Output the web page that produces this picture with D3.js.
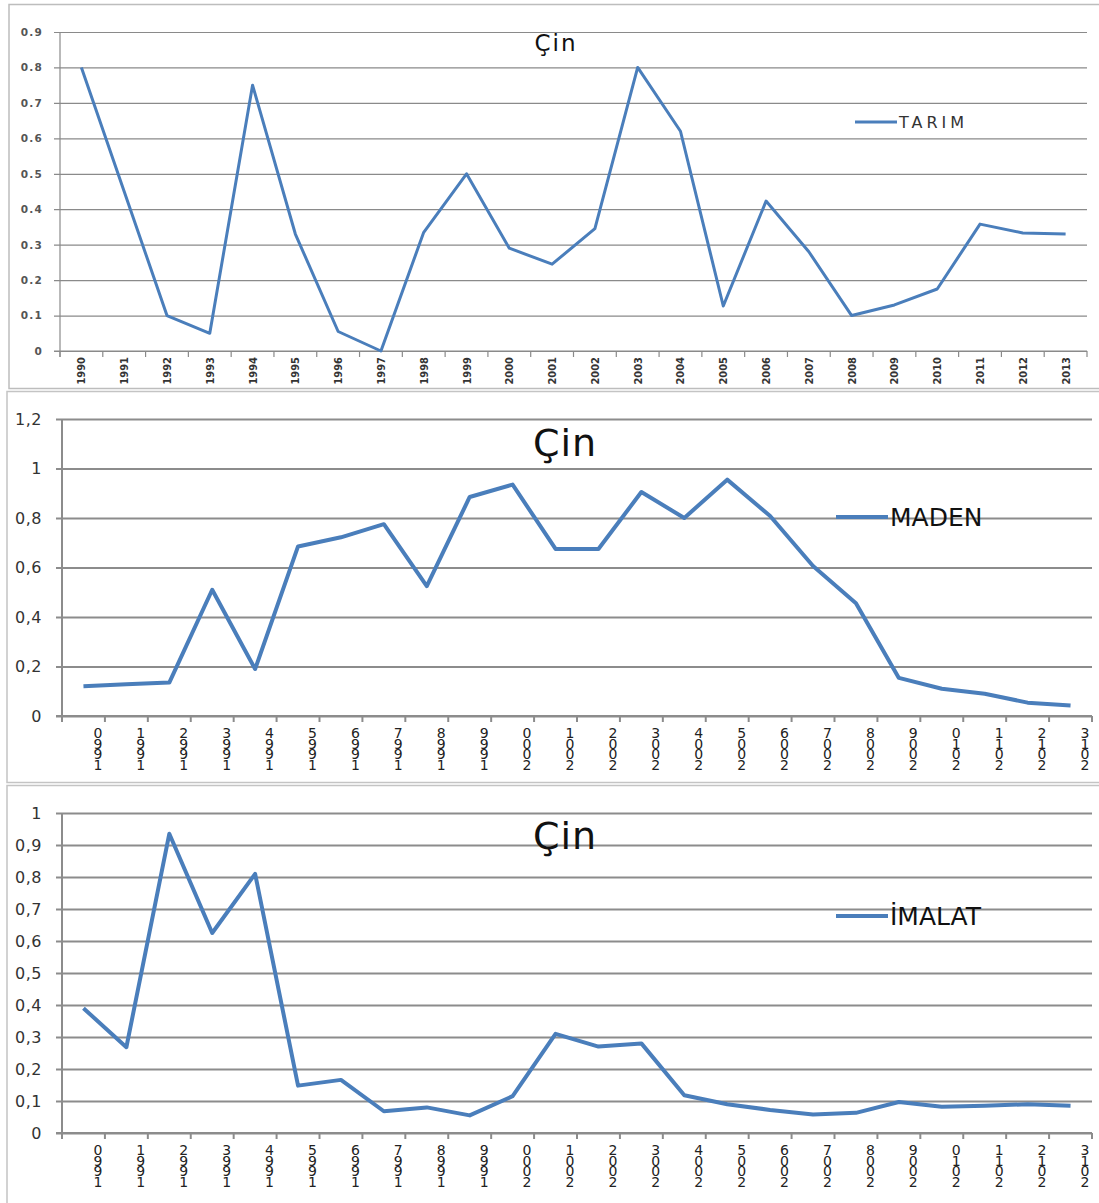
<!DOCTYPE html>
<html>
<head>
<meta charset="utf-8">
<script src="https://cdn.jsdelivr.net/npm/d3@7"></script>
<style>
  body { margin: 0; background: #fff; }
  svg { display: block; }
</style>
</head>
<body>
<div id="chart"></div>
<script>
const years = ['1990','1991','1992','1993','1994','1995','1996','1997','1998','1999','2000','2001',
               '2002','2003','2004','2005','2006','2007','2008','2009','2010','2011','2012','2013']

const tarim = [0.8, 0.45, 0.1, 0.05, 0.75, 0.33, 0.055, 0.0, 0.335, 0.5, 0.29, 0.245,
               0.345, 0.8, 0.62, 0.127, 0.423, 0.28, 0.1, 0.13, 0.175, 0.358, 0.333, 0.33]
const maden = [0.12, 0.128, 0.135, 0.51, 0.19, 0.685, 0.722, 0.775, 0.525, 0.885, 0.935, 0.675,
               0.675, 0.905, 0.8, 0.955, 0.808, 0.606, 0.456, 0.154, 0.11, 0.09, 0.054, 0.042]
const imalat = [0.39, 0.268, 0.935, 0.625, 0.81, 0.148, 0.166, 0.068, 0.08, 0.055, 0.115, 0.31,
                0.27, 0.28, 0.118, 0.09, 0.072, 0.058, 0.063, 0.097, 0.082, 0.085, 0.09, 0.085]

const tarimTicks = [0, 0.1, 0.2, 0.3, 0.4, 0.5, 0.6, 0.7, 0.8, 0.9]
const madenTicks = [0, 0.2, 0.4, 0.6, 0.8, 1, 1.2]
const imalatTicks = [0, 0.1, 0.2, 0.3, 0.4, 0.5, 0.6, 0.7, 0.8, 0.9, 1]

const blue = '#4a7ebb'
const svg = d3.select('#chart').append('svg').attr('width', 1099).attr('height', 1203)

// panel frames
svg.append('rect').attr('x', 9).attr('y', 4.5).attr('width', 1100).attr('height', 384)
    .attr('fill', 'none').attr('stroke', '#bdbdbd').attr('stroke-width', 1.5)
svg.append('rect').attr('x', 7).attr('y', 391.5).attr('width', 1100).attr('height', 391)
    .attr('fill', 'none').attr('stroke', '#c4c4c4').attr('stroke-width', 1.5)
svg.append('rect').attr('x', 7).attr('y', 785.5).attr('width', 1100).attr('height', 430)
    .attr('fill', 'none').attr('stroke', '#c4c4c4').attr('stroke-width', 1.5)

function drawPanel(p) {
    const g = svg.append('g')
    const x = d3.scaleBand().domain(years).range([p.left, p.right])
    const y = d3.scaleLinear().domain([0, d3.max(p.ticks)]).range([p.bottom, p.top])
    const bw = x.bandwidth()

    // gridlines + y labels
    const yAxis = g.append('g')
        .attr('transform', `translate(${p.right},0)`)
        .call(d3.axisLeft(y).tickValues(p.ticks)
            .tickSize(p.right - p.left + p.tickOut)
            .tickPadding(p.labelPad)
            .tickFormat(p.fmt))
    yAxis.select('.domain').remove()
    yAxis.selectAll('line').attr('stroke', p.gridColor).attr('stroke-width', p.gridWidth)
    yAxis.selectAll('text')
        .attr('font-family', p.yFont)
        .attr('font-size', p.yFontSize)
        .attr('font-weight', p.yWeight)
        .attr('letter-spacing', p.ySpacing)
        .attr('fill', p.yColor)

    // axis lines
    g.append('line').attr('x1', p.left).attr('x2', p.left)
        .attr('y1', p.top).attr('y2', p.bottom + p.tickOut)
        .attr('stroke', p.axisColor).attr('stroke-width', p.gridWidth)
    g.append('line').attr('x1', p.left - p.tickOut).attr('x2', p.right)
        .attr('y1', p.bottom).attr('y2', p.bottom)
        .attr('stroke', p.axisColor).attr('stroke-width', p.gridWidth)

    // category boundary ticks
    const bounds = years.map(d => x(d)).concat([p.right])
    g.selectAll('.xtick').data(bounds).join('line')
        .attr('x1', d => d).attr('x2', d => d)
        .attr('y1', p.bottom).attr('y2', p.bottom + p.tickOut)
        .attr('stroke', p.axisColor).attr('stroke-width', p.gridWidth)

    // x labels
    if (p.stacked) {
        // digits stacked upright, last digit on top
        const lab = g.selectAll('.xlab').data(years).join('text')
            .attr('font-family', p.xFont)
            .attr('font-size', p.xFontSize)
            .attr('fill', '#222')
            .attr('text-anchor', 'middle')
        lab.each(function (d) {
            const t = d3.select(this)
            d.split('').reverse().forEach((c, i) => {
                t.append('tspan')
                    .attr('x', x(d) + bw - 7)
                    .attr('y', p.bottom + 22 + i * p.stackStep)
                    .text(c)
            })
        })
    } else {
        g.selectAll('.xlab').data(years).join('text')
            .attr('transform', d => `translate(${x(d) + bw / 2 + 4},${p.bottom + 6}) rotate(-90)`)
            .attr('text-anchor', 'end')
            .attr('font-family', p.xFont)
            .attr('font-size', p.xFontSize)
            .attr('font-weight', 'bold')
            .attr('fill', '#333')
            .text(d => d)
    }

    // series line
    const line = d3.line()
        .x((d, i) => x(years[i]) + bw / 2)
        .y(d => y(d))
    g.append('path').datum(p.values)
        .attr('d', line)
        .attr('fill', 'none')
        .attr('stroke', blue)
        .attr('stroke-width', p.lineWidth)
        .attr('stroke-linejoin', 'round')

    // title
    g.append('text').attr('x', p.titleX).attr('y', p.titleY)
        .attr('text-anchor', 'middle')
        .attr('font-family', '"DejaVu Sans", sans-serif')
        .attr('font-size', p.titleSize)
        .attr('font-weight', p.titleWeight)
        .attr('letter-spacing', p.titleSpacing)
        .attr('fill', '#111')
        .text('Çin')

    // legend
    g.append('line').attr('x1', p.legX).attr('x2', p.legX + p.legLen)
        .attr('y1', p.legY).attr('y2', p.legY)
        .attr('stroke', blue).attr('stroke-width', p.lineWidth)
    g.append('text').attr('x', p.legX + p.legLen + 2).attr('y', p.legY + p.legSize * 0.36)
        .attr('font-family', '"DejaVu Sans", sans-serif')
        .attr('font-size', p.legSize)
        .attr('letter-spacing', p.legSpacing)
        .attr('fill', p.legColor)
        .text(p.name)
}

drawPanel({
    name: 'TARIM', values: tarim, ticks: tarimTicks,
    left: 60, right: 1087, top: 32, bottom: 351,
    tickOut: 6, labelPad: 11, fmt: d3.format('.1~f'),
    gridColor: '#8a8a8a', axisColor: '#8a8a8a', gridWidth: 1.2,
    yFont: '"DejaVu Sans", sans-serif', yFontSize: 10.5, yWeight: 'bold', ySpacing: 1.2, yColor: '#555',
    stacked: false, xFont: '"Liberation Sans Narrow", "DejaVu Sans Condensed", sans-serif', xFontSize: 11,
    lineWidth: 3,
    titleX: 556, titleY: 51, titleSize: 23, titleWeight: 'normal', titleSpacing: 2,
    legX: 855, legY: 122, legLen: 42, legSize: 16, legSpacing: 4, legColor: '#333'
})

drawPanel({
    name: 'MADEN', values: maden, ticks: madenTicks,
    left: 62, right: 1092, top: 419, bottom: 716,
    tickOut: 6, labelPad: 14, fmt: d => d3.format('.1~f')(d).replace('.', ','),
    gridColor: '#8c8c8c', axisColor: '#8c8c8c', gridWidth: 2,
    yFont: '"DejaVu Sans", sans-serif', yFontSize: 16, yWeight: 'normal', ySpacing: 0.5, yColor: '#333',
    stacked: true, stackStep: 10.5, xFont: '"DejaVu Sans", sans-serif', xFontSize: 14,
    lineWidth: 4,
    titleX: 565, titleY: 456, titleSize: 38, titleWeight: 'normal', titleSpacing: 1,
    legX: 836, legY: 517, legLen: 52, legSize: 25, legSpacing: 0, legColor: '#111'
})

drawPanel({
    name: 'İMALAT', values: imalat, ticks: imalatTicks,
    left: 62, right: 1092, top: 813, bottom: 1133,
    tickOut: 6, labelPad: 14, fmt: d => d3.format('.1~f')(d).replace('.', ','),
    gridColor: '#8c8c8c', axisColor: '#8c8c8c', gridWidth: 2,
    yFont: '"DejaVu Sans", sans-serif', yFontSize: 16, yWeight: 'normal', ySpacing: 0.5, yColor: '#333',
    stacked: true, stackStep: 10.5, xFont: '"DejaVu Sans", sans-serif', xFontSize: 14,
    lineWidth: 4,
    titleX: 565, titleY: 849, titleSize: 38, titleWeight: 'normal', titleSpacing: 1,
    legX: 836, legY: 916, legLen: 52, legSize: 25, legSpacing: 0, legColor: '#111'
})
</script>
</body>
</html>
